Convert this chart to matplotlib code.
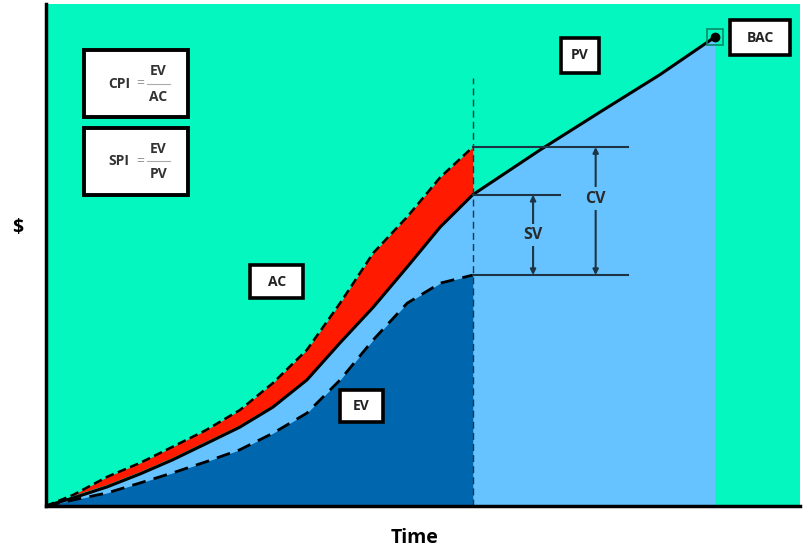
import numpy as np
import matplotlib.pyplot as plt
from matplotlib.patches import Rectangle

# time grid (percent of x axis) and curve values (percent of y axis)
t = [0, 3.6, 8.1, 12.5, 16.8, 21.2, 25.7, 30.1, 34.6, 39.0, 43.4, 47.9, 52.3, 56.6]
pv = [0, 1.6, 3.8, 6.4, 9.2, 12.4, 15.7, 19.7, 25.1, 32.5, 39.6, 47.6, 55.6, 62.0]
ac = [0, 2.2, 5.8, 8.6, 11.8, 15.1, 19.1, 24.5, 31.1, 40.4, 50.4, 57.6, 65.5, 71.5]
ev = [0, 1.2, 2.6, 4.6, 6.6, 8.8, 11.2, 14.5, 18.5, 25.1, 33.1, 40.4, 44.4, 46.0]

# planned value continues to the end of the project (BAC)
t_future = [56.6, 61.1, 65.5, 73.5, 81.4, 88.7]
pv_future = [62.0, 66.5, 70.9, 78.5, 85.9, 93.4]

GREEN = '#03F7BF'
LBLUE = '#66C3FF'
DBLUE = '#0067AE'
RED = '#FF1A00'
LINE = '#1E3444'
FONT = 'Open Sans'

fig = plt.figure(figsize=(8.05, 5.5), dpi=100)
ax = fig.add_axes([0.0571, 0.08, 0.9367, 0.9127])
ax.set_facecolor(GREEN)
ax.set_xlim(0, 100)
ax.set_ylim(0, 100)

t_all = t + t_future[1:]
pv_all = pv + pv_future[1:]

# fills
ax.fill_between(t_all, 0, pv_all, color=LBLUE, lw=0)
ax.fill_between(t, np.array(pv) + 0.5, ac, where=np.array(ac) >= np.array(pv) + 0.5,
                color=RED, lw=0)
ax.fill_between(t, 0, ev, color=DBLUE, lw=0)

# curves
ax.plot(t_all, pv_all, color='black', lw=2.2, solid_joinstyle='round')
ax.plot(t, ac, color='black', lw=1.8, ls=(0, (3.5, 1.8)))
ax.plot(t, ev, color='black', lw=2.0, ls=(0, (5, 3)))

# status date line
ax.plot([t[-1], t[-1]], [0, 85.3], color=LINE, lw=1, ls=(0, (5, 3)))

# BAC marker
ax.plot(t_future[-1], pv_future[-1], marker='s', ms=12, mfc='none', mec='#078a66', mew=1.2)
ax.plot(t_future[-1], pv_future[-1], marker='o', ms=6, color='black')

# variance lines
ax.plot([t[-1], 77.2], [ac[-1], ac[-1]], color=LINE, lw=1.5)
ax.plot([t[-1], 68.2], [pv[-1], pv[-1]], color=LINE, lw=1.5)
ax.plot([t[-1], 77.2], [ev[-1], ev[-1]], color=LINE, lw=1.5)

for x, top, lab in [(64.6, pv[-1], 'SV'), (72.9, ac[-1], 'CV')]:
    ax.annotate('', xy=(x, top), xytext=(x, ev[-1]),
                arrowprops=dict(arrowstyle='<|-|>', color=LINE, lw=1.5,
                                mutation_scale=8, shrinkA=0, shrinkB=0))
    ax.text(x, (top + ev[-1]) / 2 + (2.5 if lab == 'CV' else 0), lab, ha='center', va='center',
            fontsize=11.5, fontweight='bold', color='#2a2a2a', family=FONT,
            bbox=dict(boxstyle='square,pad=0.2', fc=LBLUE, ec='none'))


def box(x0, x1, y0, y1, label, size=10):
    ax.add_patch(Rectangle((x0, y0), x1 - x0, y1 - y0, fc='white', ec='black', lw=2.6, zorder=5))
    ax.text((x0 + x1) / 2, (y0 + y1) / 2, label, ha='center', va='center', fontsize=size,
            fontweight='bold', color='#222222', family=FONT, zorder=6)


box(27.1, 34.1, 41.4, 48.0, 'AC')
box(39.0, 44.7, 16.7, 23.1, 'EV')
box(68.3, 73.3, 86.3, 93.2, 'PV')
box(90.7, 98.7, 89.8, 96.8, 'BAC')

# index formulas
for y0, y1, num, den, name in [(77.5, 90.8, 'EV', 'AC', 'CPI'), (62.0, 75.3, 'EV', 'PV', 'SPI')]:
    ax.add_patch(Rectangle((5.0, y0), 13.8, y1 - y0, fc='white', ec='black', lw=2.8, zorder=5))
    yc = (y0 + y1) / 2
    ax.text(9.7, yc, name, ha='center', va='center', fontsize=10, fontweight='bold',
            color='#333333', family=FONT, zorder=6)
    ax.text(12.5, yc, '=', ha='center', va='center', fontsize=10, color='#999999',
            family=FONT, zorder=6)
    ax.text(14.9, yc + 2.5, num, ha='center', va='center', fontsize=10, fontweight='bold',
            color='#333333', family=FONT, zorder=6)
    ax.text(14.9, yc - 2.6, den, ha='center', va='center', fontsize=10, fontweight='bold',
            color='#333333', family=FONT, zorder=6)
    ax.plot([13.4, 16.4], [yc, yc], color='#aaaaaa', lw=0.8, zorder=6)

for s in ['top', 'right']:
    ax.spines[s].set_visible(False)
for s in ['left', 'bottom']:
    ax.spines[s].set_linewidth(2.5)
ax.set_xticks([])
ax.set_yticks([])

fig.text(18 / 805, 1 - 228 / 550, '$', ha='center', va='center', fontsize=14,
         fontweight='bold', family=FONT)
fig.text(415 / 805, 1 - 538 / 550, 'Time', ha='center', va='center', fontsize=14,
         fontweight='bold', family=FONT)

fig.savefig('out.png', dpi=100)
